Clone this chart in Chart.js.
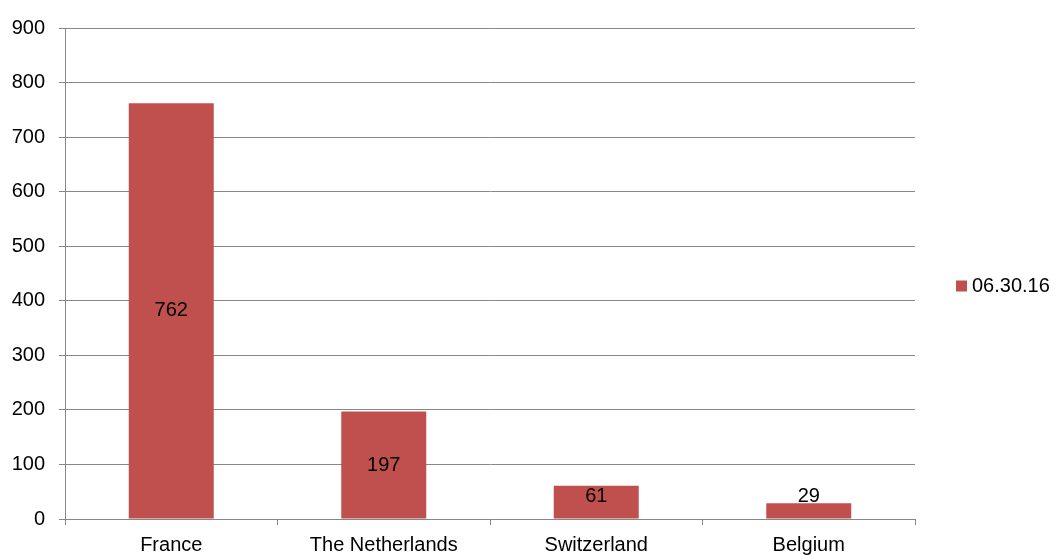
<!DOCTYPE html>
<html>
<head>
<meta charset="utf-8">
<script src="https://cdn.jsdelivr.net/npm/chart.js@4/dist/chart.umd.min.js"></script>
<style>
  html, body { margin: 0; padding: 0; background: #fff; }
  #wrap { width: 1056px; height: 555px; position: relative; }
</style>
</head>
<body>
<div id="wrap"><canvas id="chart"></canvas></div>
<script>
const categories = ['France', 'The Netherlands', 'Switzerland', 'Belgium'];
const seriesLabel = '06.30.16';
const seriesValues = [762, 197, 61, 29];
const yTicks = [0, 100, 200, 300, 400, 500, 600, 700, 800, 900];

const RED = '#C0504D';
const GRID = '#878787';
const FONT = { family: 'Arial, "Liberation Sans", sans-serif', size: 20 };

// value labels sit in the middle of each bar, but never lower than just above the axis
const barLabels = {
  id: 'barLabels',
  afterDatasetsDraw(chart) {
    const { ctx } = chart;
    const meta = chart.getDatasetMeta(0);
    ctx.save();
    ctx.font = `${FONT.size}px ${FONT.family}`;
    ctx.fillStyle = '#000';
    ctx.textAlign = 'center';
    ctx.textBaseline = 'middle';
    meta.data.forEach((bar, i) => {
      const mid = (bar.y + bar.base) / 2;
      const y = Math.min(mid, bar.base - 22);
      ctx.fillText(String(seriesValues[i]), bar.x, y);
    });
    ctx.restore();
  }
};

// legend: one square swatch and the series name, right of the plot
const sideLegend = {
  id: 'sideLegend',
  afterDraw(chart) {
    const { ctx } = chart;
    const cy = 286;
    ctx.save();
    ctx.fillStyle = RED;
    ctx.fillRect(956, cy - 5.5, 11, 11);
    ctx.font = `${FONT.size}px ${FONT.family}`;
    ctx.fillStyle = '#000';
    ctx.textAlign = 'left';
    ctx.textBaseline = 'middle';
    ctx.fillText(seriesLabel, 972, cy);
    ctx.restore();
  }
};

new Chart(document.getElementById('chart'), {
  type: 'bar',
  data: {
    labels: categories,
    datasets: [{
      label: seriesLabel,
      data: seriesValues,
      backgroundColor: RED,
      borderWidth: 0,
      barPercentage: 0.4,
      categoryPercentage: 1.0
    }]
  },
  options: {
    responsive: true, maintainAspectRatio: false,
    animation: false,
    layout: { padding: { top: 28, right: 141, left: 0, bottom: 0 } },
    plugins: { legend: { display: false }, tooltip: { enabled: false } },
    scales: {
      x: {
        grid: { display: true, drawOnChartArea: false, color: GRID, tickLength: 6, offset: true },
        border: { color: GRID, width: 1 },
        ticks: { color: '#000', font: FONT, padding: 8, maxRotation: 0 },
        afterFit: s => { s.height = 36; }
      },
      y: {
        min: 0, max: 900,
        afterBuildTicks: s => { s.ticks = yTicks.map(v => ({ value: v })); },
        grid: { color: GRID, tickLength: 6 },
        border: { color: GRID, width: 1 },
        ticks: { color: '#000', font: FONT, padding: 14 },
        afterFit: s => { s.width = 65; }
      }
    }
  },
  plugins: [barLabels, sideLegend]
});
</script>
</body>
</html>
